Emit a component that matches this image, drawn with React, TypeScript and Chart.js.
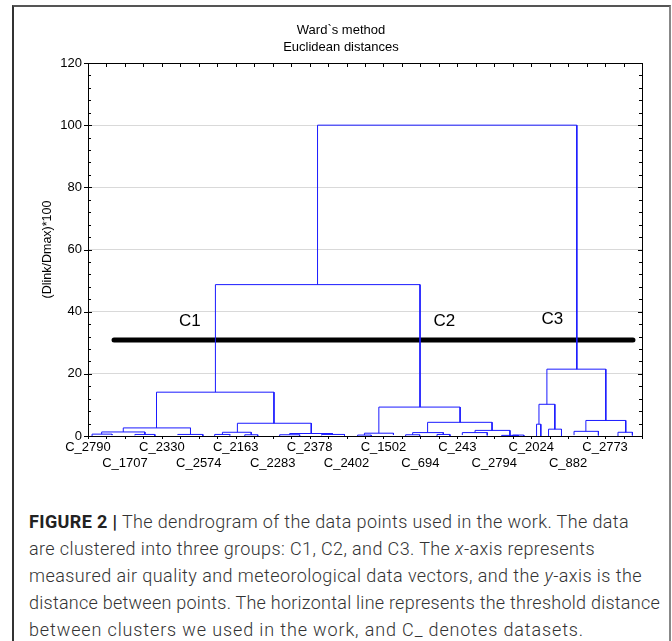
import React, { useEffect, useLayoutEffect, useRef } from 'react';
import { Chart, registerables } from 'chart.js';

Chart.register(...registerables);

// ---- data ----
const xLabels = ['C_2790', 'C_1707', 'C_2330', 'C_2574', 'C_2163', 'C_2283', 'C_2378', 'C_2402', 'C_1502', 'C_694', 'C_243', 'C_2794', 'C_2024', 'C_882', 'C_2773'];
const xMin = 0;
const xMax = 30;
const yMin = 0;
const yMax = 120;
const yStep = 20;

// merges (leaf-position units on x, linkage distance on y)
const mergeLeftX = [12.43, 6.90, 3.71, 1.91, 0.74, 0.22, 2.54, 4.86, 8.09, 7.28, 6.86, 8.49, 10.92, 10.38, 12.65, 15.75, 14.97, 18.39, 17.58, 20.96, 20.27, 24.85, 24.42, 24.29, 24.94, 26.96, 26.32, 28.70, 14.6, 17.2, 18.9, 23.0, 22.4];
const mergeRightX = [26.47, 17.98, 10.07, 5.55, 3.08, 1.30, 3.62, 6.22, 12.09, 8.84, 7.68, 9.19, 13.24, 11.46, 13.89, 20.15, 16.54, 21.88, 19.24, 22.85, 21.62, 28.04, 25.28, 24.52, 25.64, 29.12, 27.64, 29.48, 15.34, 17.96, 19.6, 23.6, 23.3];
const mergeHeight = [100, 48.7, 14.1, 2.6, 1.3, 0.6, 0.5, 0.5, 4.1, 1.2, 0.5, 0.4, 0.8, 0.4, 0.5, 9.3, 0.9, 4.4, 1.1, 1.8, 1.1, 21.5, 10.2, 3.8, 2.2, 5.0, 1.5, 1.2, 0.3, 0.4, 0.5, 0.3, 0.2];
const mergeLeftH = [48.7, 14.1, 2.6, 1.3, 0.6, 0, 0.2, 0.3, 1.2, 0.5, 0, 0, 0.4, 0, 0.2, 0.9, 0.3, 1.1, 0.4, 1.1, 0.3, 10.2, 3.8, 0, 0, 1.5, 0.3, 0, 0, 0, 0, 0, 0];
const mergeRightH = [21.5, 9.3, 4.1, 0.5, 0.5, 0.3, 0, 0, 0.8, 0.4, 0.2, 0, 0.5, 0, 0, 4.4, 0.4, 1.8, 0.5, 0, 0.2, 5.0, 2.2, 0, 0, 1.2, 0.2, 0.2, 0, 0, 0, 0, 0];

const thresholdValue = 30.9;
const thresholdFrom = 1.41;
const thresholdTo = 29.51;

const clusterNames = ['C1', 'C2', 'C3'];
const clusterX = [5.51, 19.3, 25.14];
const clusterY = [37.0, 36.8, 37.4];

const titleLines = ['Ward`s method', 'Euclidean distances'];
const yTitle = '(Dlink/Dmax)*100';

const FONT = '"Liberation Sans", Arial, sans-serif';

// caption line right edges (px) for width fitting
const captionRight = [629, 595, 642, 660, 584];
const captionLeft = 29;

function buildDendro() {
  const pts: any[] = [];
  for (let i = 0; i < mergeHeight.length; i++) {
    const L = mergeLeftX[i];
    const R = mergeRightX[i];
    pts.push({ x: L, y: mergeLeftH[i] });
    pts.push({ x: L, y: mergeHeight[i] });
    pts.push({ x: R, y: mergeHeight[i] });
    pts.push({ x: R, y: mergeRightH[i] });
    pts.push({ x: R, y: null });
  }
  return pts;
}

const framePlugin = {
  id: 'frameTicks',
  afterDraw(chart: any) {
    const { ctx, chartArea: a, scales } = chart;
    const x = scales.x;
    const y = scales.y;
    ctx.save();
    ctx.strokeStyle = '#000';
    ctx.lineWidth = 1;
    ctx.strokeRect(Math.round(a.left) + 0.5, Math.round(a.top) + 0.5, Math.round(a.right - a.left), Math.round(a.bottom - a.top));
    ctx.beginPath();
    for (let v = xMin; v <= xMax; v += 1) {
      const px = Math.round(x.getPixelForValue(v)) + 0.5;
      ctx.moveTo(px, a.top);
      ctx.lineTo(px, a.top + 4);
      ctx.moveTo(px, a.bottom);
      ctx.lineTo(px, a.bottom + 3);
    }
    for (let v = yMin; v <= yMax; v += 4) {
      const py = Math.round(y.getPixelForValue(v)) + 0.5;
      const major = v % yStep === 0;
      ctx.moveTo(a.right, py);
      ctx.lineTo(a.right - (major ? 4 : 3), py);
      ctx.moveTo(a.left, py);
      ctx.lineTo(a.left + (major ? 4 : 3), py);
      if (major) {
        ctx.moveTo(a.left, py);
        ctx.lineTo(a.left - 4, py);
      }
    }
    ctx.stroke();
    // cluster labels
    ctx.fillStyle = '#000';
    ctx.font = `17px ${FONT}`;
    ctx.textAlign = 'center';
    ctx.textBaseline = 'middle';
    for (let i = 0; i < clusterNames.length; i++) {
      ctx.fillText(clusterNames[i], x.getPixelForValue(clusterX[i]), y.getPixelForValue(clusterY[i]));
    }
    ctx.restore();
  },
};

function DendroChart() {
  const ref = useRef<HTMLCanvasElement | null>(null);
  useEffect(() => {
    if (!ref.current) return;
    const chart = new Chart(ref.current, {
      type: 'scatter',
      data: {
        datasets: [
          {
            data: buildDendro(),
            showLine: true,
            borderColor: '#1a1aff',
            borderWidth: 1,
            pointRadius: 0,
            spanGaps: false,
            borderJoinStyle: 'miter',
          } as any,
          {
            data: [
              { x: thresholdFrom, y: thresholdValue },
              { x: thresholdTo, y: thresholdValue },
            ],
            showLine: true,
            borderColor: '#000',
            borderWidth: 5,
            borderCapStyle: 'round',
            pointRadius: 0,
          } as any,
        ],
      },
      options: {
        animation: false,
        responsive: false,
        maintainAspectRatio: false,
        layout: { padding: { left: 40, right: 30, top: 21.5, bottom: 0 } },
        plugins: {
          legend: { display: false },
          tooltip: { enabled: false },
          title: {
            display: true,
            text: titleLines,
            color: '#000',
            font: { family: FONT, size: 13, weight: 'normal', lineHeight: 17 / 13 },
            padding: { top: 0, bottom: 7.5 },
          },
        },
        scales: {
          x: {
            type: 'linear',
            min: xMin,
            max: xMax,
            afterFit: (s: any) => {
              s.height = 54;
            },
            grid: { display: false, drawTicks: false },
            border: { display: false },
            ticks: {
              stepSize: 1,
              autoSkip: false,
              maxRotation: 0,
              minRotation: 0,
              padding: 4,
              color: '#000',
              font: { family: FONT, size: 13, lineHeight: 1.2 },
              callback: (v: any) => {
                const n = Math.round(Number(v));
                if (n % 2 !== 0) return '';
                const k = n / 2;
                if (k >= xLabels.length) return '';
                return k % 2 === 0 ? [xLabels[k], ''] : ['', xLabels[k]];
              },
            },
          },
          y: {
            type: 'linear',
            min: yMin,
            max: yMax,
            afterFit: (s: any) => {
              s.width = 48;
            },
            grid: {
              drawTicks: false,
              color: (c: any) => (c.tick && (c.tick.value === yMin || c.tick.value === yMax) ? 'rgba(0,0,0,0)' : '#d9d9d9'),
            },
            border: { display: false },
            ticks: {
              stepSize: yStep,
              padding: 6,
              color: '#000',
              font: { family: FONT, size: 13 },
            },
            title: {
              display: true,
              text: yTitle,
              color: '#000',
              font: { family: FONT, size: 12.5 },
              padding: 0,
            },
          },
        },
      },
      plugins: [framePlugin],
    } as any);
    return () => chart.destroy();
  }, []);
  return <canvas ref={ref} width={672} height={490} style={{ position: 'absolute', left: 0, top: 0 }} />;
}

function Caption() {
  const refs = useRef<(HTMLSpanElement | null)[]>([]);
  useLayoutEffect(() => {
    const fit = () => {
      refs.current.forEach((el, i) => {
        if (!el) return;
        el.style.letterSpacing = '0px';
        const w = el.getBoundingClientRect().width;
        const n = (el.textContent || '').length;
        const target = captionRight[i] - captionLeft;
        el.style.letterSpacing = `${(target - w) / Math.max(1, n)}px`;
      });
    };
    fit();
    const f: any = (document as any).fonts;
    if (f && f.ready) f.ready.then(fit);
  }, []);
  const cap: React.CSSProperties = {
    position: 'absolute',
    left: captionLeft,
    top: 508,
    fontFamily: 'Roboto, "Liberation Sans", sans-serif',
    fontWeight: 300,
    fontSize: 18,
    lineHeight: '27px',
    color: '#333',
    whiteSpace: 'nowrap',
  };
  const set = (i: number) => (el: HTMLSpanElement | null) => {
    refs.current[i] = el;
  };
  return (
    <div style={cap}>
      <div>
        <span ref={set(0)}>
          <span style={{ fontWeight: 700, color: '#222' }}>FIGURE 2 |</span> The dendrogram of the data points used in the work. The data
        </span>
      </div>
      <div>
        <span ref={set(1)}>
          are clustered into three groups: C1, C2, and C3. The <i>x</i>-axis represents
        </span>
      </div>
      <div>
        <span ref={set(2)}>
          measured air quality and meteorological data vectors, and the <i>y</i>-axis is the
        </span>
      </div>
      <div>
        <span ref={set(3)}>distance between points. The horizontal line represents the threshold distance</span>
      </div>
      <div>
        <span ref={set(4)}>between clusters we used in the work, and C_ denotes datasets.</span>
      </div>
    </div>
  );
}

export default function App() {
  return (
    <div style={{ position: 'fixed', left: 0, top: 0, width: 672, height: 641, background: '#fff', overflow: 'hidden' }}>
      <div
        style={{
          position: 'absolute',
          left: 12,
          top: 5,
          width: 655,
          height: 700,
          borderLeft: '2px solid #333',
          borderTop: '2px solid #555',
          borderRight: '2px solid #888',
        }}
      />
      <DendroChart />
      <Caption />
    </div>
  );
}
